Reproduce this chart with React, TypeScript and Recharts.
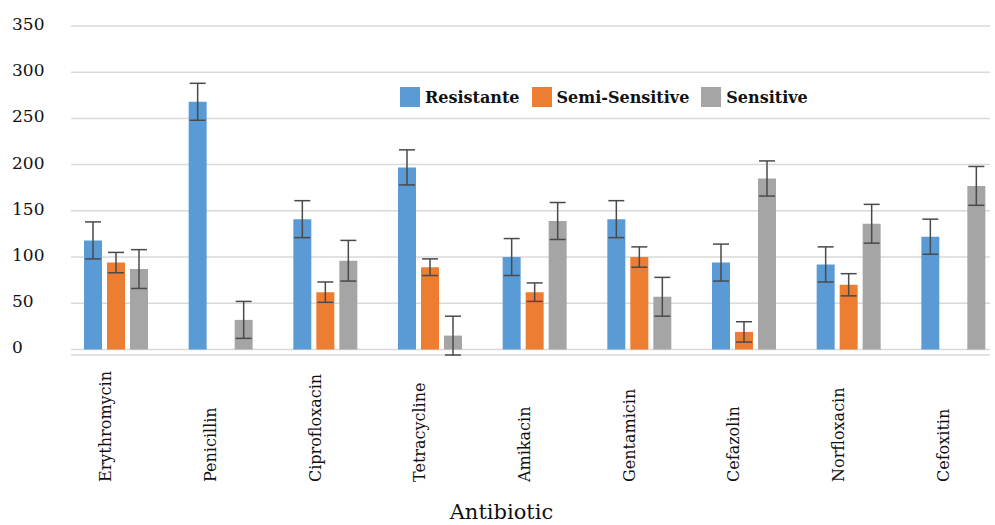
import { BarChart, Bar, XAxis, YAxis, CartesianGrid, ErrorBar } from "recharts";

const antibiotics = [
  "Erythromycin", "Penicillin", "Ciprofloxacin", "Tetracycline", "Amikacin",
  "Gentamicin", "Cefazolin", "Norfloxacin", "Cefoxitin",
];

const resistante = [118, 268, 141, 197, 100, 141, 94, 92, 122];
const resistanteErr = [20, 20, 20, 19, 20, 20, 20, 19, 19];
const semiSensitive = [94, 0, 62, 89, 62, 100, 19, 70, 0];
const semiSensitiveErr = [11, null, 11, 9, 10, 11, 11, 12, null];
const sensitive = [87, 32, 96, 15, 139, 57, 185, 136, 177];
const sensitiveErr = [21, 20, 22, 21, 20, 21, 19, 21, 21];

const yTicks = [0, 50, 100, 150, 200, 250, 300, 350];

const series = [
  { key: "resistante", err: "resistanteErr", name: "Resistante", color: "#5B9BD5" },
  { key: "semi", err: "semiErr", name: "Semi-Sensitive", color: "#ED7D31" },
  { key: "sensitive", err: "sensitiveErr", name: "Sensitive", color: "#A5A5A5" },
];

const data = antibiotics.map((name, i) => ({
  name,
  resistante: resistante[i],
  resistanteErr: resistanteErr[i],
  semi: semiSensitive[i],
  semiErr: semiSensitiveErr[i],
  sensitive: sensitive[i],
  sensitiveErr: sensitiveErr[i],
}));

const FONT = "'DejaVu Serif', 'Liberation Serif', serif";

function YTick(props: any) {
  const { y, payload } = props;
  return (
    <text x={12} y={y - 2} dominantBaseline="central" textAnchor="start"
      style={{ fontFamily: FONT, fontSize: 17, fill: "#111" }}>
      {payload.value}
    </text>
  );
}

function XTick(props: any) {
  const { x, payload } = props;
  const tx = x - 5;
  const ty = 482;
  return (
    <text x={tx} y={ty} transform={`rotate(-90, ${tx}, ${ty})`} textAnchor="start"
      style={{ fontFamily: FONT, fontSize: 16, fill: "#111" }}>
      {payload.value}
    </text>
  );
}

export default function App() {
  return (
    <div style={{ position: "absolute", left: 0, top: 0, width: 995, height: 525, background: "#fff", fontFamily: FONT }}>
      <BarChart width={995} height={525} data={data}
        margin={{ top: 26, right: 5, left: 0, bottom: 0 }}
        barSize={18} barGap={5}>
        <CartesianGrid vertical={false} stroke="#D9D9D9" strokeWidth={1.5} />
        <XAxis dataKey="name" interval={0} height={170} axisLine={false} tickLine={false}
          padding={{ left: -7, right: -16 }} tick={<XTick />}
          label={{ value: "Antibiotic", position: "insideBottom", offset: 6, dx: -29,
            style: { fontFamily: FONT, fontSize: 21, fill: "#111" } }} />
        <YAxis width={71} domain={[0, 350]} ticks={yTicks} axisLine={false} tickLine={false}
          tick={<YTick />} />
        {series.map((s) => (
          <Bar key={s.key} dataKey={s.key} name={s.name} fill={s.color} isAnimationActive={false}>
            <ErrorBar dataKey={s.err} width={8} stroke="#4a4a4a" strokeWidth={1.5} isAnimationActive={false} />
          </Bar>
        ))}
      </BarChart>
      <div style={{ position: "absolute", left: 400, top: 87, display: "flex", alignItems: "center",
        fontFamily: FONT, fontWeight: "bold", fontSize: 16, color: "#111", whiteSpace: "nowrap" }}>
        {series.map((s) => (
          <div key={s.key} style={{ display: "flex", alignItems: "center", marginRight: 12 }}>
            <span style={{ display: "inline-block", width: 20, height: 20, background: s.color, marginRight: 5 }} />
            <span>{s.name}</span>
          </div>
        ))}
      </div>
    </div>
  );
}
